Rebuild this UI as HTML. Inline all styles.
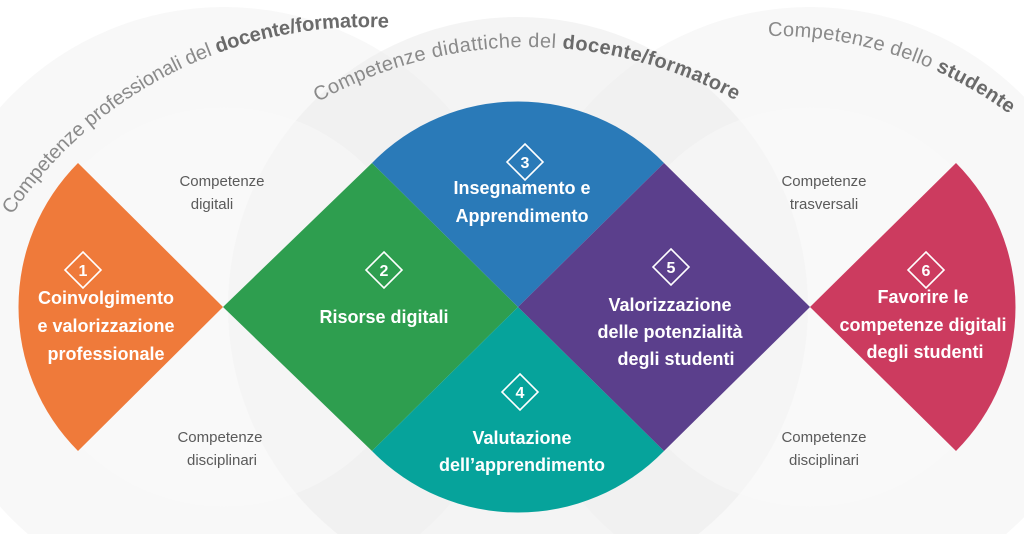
<!DOCTYPE html>
<html><head><meta charset="utf-8"><style>
html,body{margin:0;padding:0;background:#fff;width:1024px;height:534px;overflow:hidden;}
svg{display:block;}
.t{font-family:"Liberation Sans",sans-serif;font-weight:bold;fill:#fff;font-size:18px;text-anchor:middle;}
.s{font-family:"Liberation Sans",sans-serif;fill:#5a5a5a;font-size:15px;text-anchor:middle;}
.a{font-family:"Liberation Sans",sans-serif;fill:#8a8a8a;font-size:20px;}
.a tspan.b{font-weight:bold;fill:#6a6a6a;}
.n{font-family:"Liberation Sans",sans-serif;font-weight:bold;fill:#fff;font-size:16px;text-anchor:middle;}
</style></head><body>
<svg width="1024" height="534" viewBox="0 0 1024 534" xmlns="http://www.w3.org/2000/svg">
<defs>
<path id="p1" d="M 12 215 A 424 424 0 0 1 392 28"/>
<path id="p2" d="M 318 102 A 430 430 0 0 1 742 104"/>
<path id="p3" d="M 768 36 A 396 396 0 0 1 1012 116"/>
</defs>
<rect width="1024" height="534" fill="#fff"/>
<circle cx="224" cy="307" r="300" fill="#f8f8f8"/>
<circle cx="810" cy="307" r="300" fill="#f8f8f8"/>
<circle cx="518" cy="307" r="290" fill="#ececec" opacity="0.6"/>
<circle cx="224" cy="307" r="200" fill="#fafafa" opacity="0.5"/>
<circle cx="810" cy="307" r="200" fill="#fafafa" opacity="0.5"/>

<text class="a"><textPath href="#p1" textLength="440" lengthAdjust="spacing">Competenze professionali del <tspan class="b">docente/formatore</tspan></textPath></text>
<text class="a"><textPath href="#p2" textLength="436" lengthAdjust="spacing">Competenze didattiche del <tspan class="b">docente/formatore</tspan></textPath></text>
<text class="a"><textPath href="#p3" textLength="258" lengthAdjust="spacing">Competenze dello <tspan class="b">studente</tspan></textPath></text>

<path d="M 223 307 L 78 163 A 204 204 0 0 0 78 451 Z" fill="#ef7a3a"/>
<path d="M 223 307 L 372 163 L 518 307 L 372 451 Z" fill="#2e9e4f"/>
<path d="M 372 163 L 518 307 L 664 163 A 204 204 0 0 0 372 163 Z" fill="#2a7ab8"/>
<path d="M 372 451 L 518 307 L 664 451 A 204 204 0 0 1 372 451 Z" fill="#06a39b"/>
<path d="M 518 307 L 664 163 L 810 307 L 664 451 Z" fill="#5b3f8c"/>
<path d="M 810 307 L 956 163 A 204 204 0 0 1 956 451 Z" fill="#cc3b5f"/>

<g fill="none" stroke="#fff" stroke-width="1.6">
<path d="M 83 252 L 101 270 L 83 288 L 65 270 Z"/>
<path d="M 384 252 L 402 270 L 384 288 L 366 270 Z"/>
<path d="M 525 144 L 543 162 L 525 180 L 507 162 Z"/>
<path d="M 520 374 L 538 392 L 520 410 L 502 392 Z"/>
<path d="M 671 249 L 689 267 L 671 285 L 653 267 Z"/>
<path d="M 926 252 L 944 270 L 926 288 L 908 270 Z"/>
</g>
<text class="n" x="83" y="276">1</text>
<text class="n" x="384" y="276">2</text>
<text class="n" x="525" y="168">3</text>
<text class="n" x="520" y="398">4</text>
<text class="n" x="671" y="273">5</text>
<text class="n" x="926" y="276">6</text>

<text class="t" x="106" y="304">Coinvolgimento</text>
<text class="t" x="106" y="332">e valorizzazione</text>
<text class="t" x="106" y="360">professionale</text>
<text class="t" x="384" y="323">Risorse digitali</text>
<text class="t" x="522" y="194">Insegnamento e</text>
<text class="t" x="522" y="222">Apprendimento</text>
<text class="t" x="522" y="444">Valutazione</text>
<text class="t" x="522" y="471">dell’apprendimento</text>
<text class="t" x="670" y="311">Valorizzazione</text>
<text class="t" x="670" y="338">delle potenzialità</text>
<text class="t" x="676" y="365">degli studenti</text>
<text class="t" x="923" y="303">Favorire le</text>
<text class="t" x="923" y="331">competenze digitali</text>
<text class="t" x="925" y="358">degli studenti</text>

<text class="s" x="222" y="186">Competenze</text>
<text class="s" x="212" y="209">digitali</text>
<text class="s" x="220" y="442">Competenze</text>
<text class="s" x="222" y="465">disciplinari</text>
<text class="s" x="824" y="186">Competenze</text>
<text class="s" x="824" y="209">trasversali</text>
<text class="s" x="824" y="442">Competenze</text>
<text class="s" x="824" y="465">disciplinari</text>
</svg>
</body></html>
